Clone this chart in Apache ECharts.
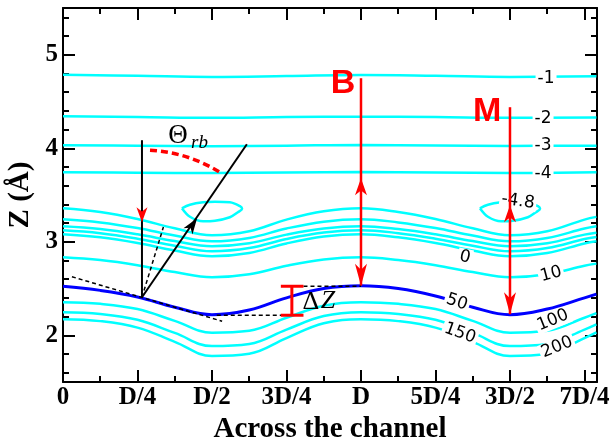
<!DOCTYPE html>
<html><head><meta charset="utf-8">
<script src="https://cdn.jsdelivr.net/npm/echarts@6/dist/echarts.min.js"></script>
<style>html,body{margin:0;padding:0;background:#fff}#c{width:613px;height:437px}</style>
</head><body><div id="c"></div>
<script>
// ---------- data ----------
const xTickVals = [0, 0.25, 0.5, 0.75, 1, 1.25, 1.5, 1.75];
const xTickLabels = ['0', 'D/4', 'D/2', '3D/4', 'D', '5D/4', '3D/2', '7D/4'];
const xMinorVals = [0.125, 0.375, 0.625, 0.875, 1.125, 1.375, 1.625];
const yTickVals = [2, 3, 4, 5];
const yMinorVals = [1.6, 1.8, 2.2, 2.4, 2.6, 2.8, 3.2, 3.4, 3.6, 3.8, 4.2, 4.4, 4.6, 4.8, 5.2, 5.4];

// flat contours (far from surface)
const xFlat = [0, 0.25, 0.5, 0.75, 1, 1.25, 1.5, 1.79];
const zFlatM1 = [4.786, 4.775, 4.763, 4.772, 4.783, 4.775, 4.763, 4.770];
const zFlatM2 = [4.342, 4.335, 4.325, 4.333, 4.338, 4.333, 4.325, 4.330];
const zFlatM3 = [4.032, 4.028, 4.022, 4.028, 4.035, 4.030, 4.025, 4.028];
const zFlatM4 = [3.742, 3.739, 3.735, 3.740, 3.745, 3.741, 3.735, 3.742];

// wavy contours
const xWave = [0, 0.125, 0.25, 0.375, 0.5, 0.625, 0.75, 0.875, 1, 1.125, 1.25, 1.375, 1.5, 1.625, 1.75, 1.79];
const zWaveM4 = [3.358, 3.318, 3.243, 3.144, 3.070, 3.112, 3.237, 3.326, 3.358, 3.318, 3.243, 3.144, 3.070, 3.112, 3.237, 3.266];
const zWaveM3 = [3.241, 3.207, 3.147, 3.066, 3.005, 3.041, 3.142, 3.215, 3.241, 3.207, 3.147, 3.066, 3.005, 3.041, 3.142, 3.166];
const zWaveM2 = [3.166, 3.136, 3.080, 3.007, 2.952, 2.984, 3.076, 3.142, 3.166, 3.136, 3.080, 3.007, 2.952, 2.984, 3.076, 3.097];
const zWaveM1 = [3.123, 3.092, 3.033, 2.957, 2.898, 2.932, 3.029, 3.098, 3.123, 3.092, 3.033, 2.957, 2.898, 2.932, 3.029, 3.051];
const zWave0 = [3.080, 3.047, 2.986, 2.906, 2.845, 2.880, 2.982, 3.055, 3.080, 3.047, 2.986, 2.906, 2.845, 2.880, 2.982, 3.005];
const zWave10 = [2.834, 2.804, 2.749, 2.676, 2.620, 2.652, 2.744, 2.811, 2.834, 2.804, 2.749, 2.676, 2.620, 2.652, 2.744, 2.766];
const zWave50 = [2.524, 2.480, 2.410, 2.300, 2.220, 2.270, 2.400, 2.500, 2.530, 2.500, 2.420, 2.300, 2.220, 2.280, 2.400, 2.440];
const zWave100 = [2.353, 2.336, 2.280, 2.154, 2.028, 2.048, 2.187, 2.316, 2.353, 2.336, 2.280, 2.154, 2.028, 2.048, 2.187, 2.236];
const zWave150 = [2.246, 2.228, 2.165, 2.025, 1.884, 1.907, 2.061, 2.205, 2.246, 2.228, 2.165, 2.025, 1.884, 1.907, 2.061, 2.117];
const zWave200 = [2.171, 2.151, 2.082, 1.930, 1.778, 1.802, 1.970, 2.128, 2.171, 2.151, 2.082, 1.930, 1.778, 1.802, 1.970, 2.031];

// closed -4.8 contours
const xLoopA = [0.399, 0.426, 0.470, 0.510, 0.560, 0.594, 0.601, 0.587, 0.560, 0.510, 0.470, 0.426, 0.399];
const zLoopA = [3.358, 3.396, 3.422, 3.428, 3.422, 3.380, 3.353, 3.316, 3.262, 3.225, 3.219, 3.267, 3.358];
const xLoopB = [1.399, 1.426, 1.470, 1.510, 1.560, 1.594, 1.601, 1.587, 1.560, 1.510, 1.470, 1.426, 1.399];
const zLoopB = [3.358, 3.396, 3.422, 3.428, 3.422, 3.380, 3.353, 3.316, 3.262, 3.225, 3.219, 3.267, 3.358];

// contour labels: [text, x, z, rotation(deg)]
const contourLabels = [
  ['-1', 1.621, 4.749, 0], ['-2', 1.611, 4.321, 0], ['-3', 1.611, 4.032, 0], ['-4', 1.611, 3.733, 0],
  ['-4.8', 1.527, 3.433, -8], ['0', 1.349, 2.834, -12], ['10', 1.638, 2.652, 15], ['50', 1.322, 2.353, -18],
  ['100', 1.644, 2.160, 22], ['150', 1.332, 2.021, -20], ['200', 1.658, 1.872, 22]
];

// ---------- chart ----------
const chart = echarts.init(document.getElementById('c'), null, {renderer: 'canvas'});
const CYAN = '#00ffff', BLUE = '#0000ff', RED = '#ff0000';
function pairs(xa, za) { return xa.map((x, i) => [x, za[i]]); }
function cline(xa, za, color, w, sm) {
  return {type: 'line', data: pairs(xa, za), showSymbol: false, smooth: sm, silent: true,
    lineStyle: {color: color, width: w}, xAxisIndex: 0, yAxisIndex: 0, z: 2, animation: false};
}
const XMAX = 1.792, YMIN = 1.5, YMAX = 5.5;
const tickFont = {fontFamily: 'Liberation Serif', fontWeight: 'bold', fontSize: 25, color: '#000'};
function xAx(pos, vals, len, line, labels) {
  return {type: 'value', position: pos, min: 0, max: XMAX, splitLine: {show: false},
    axisLine: {show: line, onZero: false, lineStyle: {color: '#000', width: 2}},
    axisTick: {show: true, inside: true, length: len, lineStyle: {color: '#000', width: 2}, customValues: vals},
    axisLabel: labels ? Object.assign({show: true, margin: 3, customValues: vals,
      formatter: v => { const i = xTickVals.findIndex(t => Math.abs(t - v) < 1e-6); return i >= 0 ? xTickLabels[i] : ''; }}, tickFont) : {show: false},
    name: labels ? 'Across the channel' : '', nameLocation: 'middle', nameGap: 25,
    nameTextStyle: {fontFamily: 'Liberation Serif', fontWeight: 'bold', fontSize: 29, color: '#000'}};
}
function yAx(pos, vals, len, line, labels) {
  return {type: 'value', position: pos, min: YMIN, max: YMAX, splitLine: {show: false},
    axisLine: {show: line, onZero: false, lineStyle: {color: '#000', width: 2}},
    axisTick: {show: true, inside: true, length: len, lineStyle: {color: '#000', width: 2}, customValues: vals},
    axisLabel: labels ? Object.assign({show: true, margin: 5, customValues: vals, formatter: v => String(Math.round(v))}, tickFont) : {show: false},
    name: labels ? 'Z (Å)' : '', nameLocation: 'middle', nameGap: 26, nameRotate: 90,
    nameTextStyle: {fontFamily: 'Liberation Serif', fontWeight: 'bold', fontSize: 29, color: '#000'}};
}
chart.setOption({
  animation: false,
  backgroundColor: '#fff',
  grid: {left: 63, right: 16, top: 8, bottom: 55, containLabel: false, outerBoundsMode: 'none'},
  xAxis: [xAx('bottom', xTickVals, 12, true, true), xAx('bottom', xMinorVals, 6, false, false),
          xAx('top', xTickVals, 12, true, false), xAx('top', xMinorVals, 6, false, false)],
  yAxis: [yAx('left', yTickVals, 12, true, true), yAx('left', yMinorVals, 6, false, false),
          yAx('right', yTickVals, 12, true, false), yAx('right', yMinorVals, 6, false, false)],
  series: [
    cline(xFlat, zFlatM1, CYAN, 2.5, 0.4), cline(xFlat, zFlatM2, CYAN, 2.5, 0.4),
    cline(xFlat, zFlatM3, CYAN, 2.5, 0.4), cline(xFlat, zFlatM4, CYAN, 2.5, 0.4),
    cline(xWave, zWaveM4, CYAN, 2.5, 0.4), cline(xWave, zWaveM3, CYAN, 2.5, 0.4),
    cline(xWave, zWaveM2, CYAN, 2.5, 0.4), cline(xWave, zWaveM1, CYAN, 2.5, 0.4),
    cline(xWave, zWave0, CYAN, 2.5, 0.4), cline(xWave, zWave10, CYAN, 2.5, 0.4),
    cline(xWave, zWave100, CYAN, 2.5, 0.4), cline(xWave, zWave150, CYAN, 2.5, 0.4),
    cline(xWave, zWave200, CYAN, 2.5, 0.4),
    cline(xLoopA, zLoopA, CYAN, 2.5, 0.35), cline(xLoopB, zLoopB, CYAN, 2.5, 0.35),
    cline(xWave, zWave50, BLUE, 3, 0.4)
  ]
});

// ---------- annotations ----------
const P = (x, z) => chart.convertToPixel({gridIndex: 0}, [x, z]);
const G = [];
function seg(a, b, color, w, dash, z) {
  G.push({type: 'line', z: z || 50, silent: true, shape: {x1: a[0], y1: a[1], x2: b[0], y2: b[1]},
    style: {stroke: color, lineWidth: w, lineDash: dash || null}});
}
function head(tip, from, len, w, color) {
  const dx = tip[0] - from[0], dy = tip[1] - from[1], L = Math.hypot(dx, dy), ux = dx / L, uy = dy / L;
  const bx = tip[0] - ux * len, by = tip[1] - uy * len, nx = -uy, ny = ux;
  const nb = [tip[0] - ux * len * 0.72, tip[1] - uy * len * 0.72];
  G.push({type: 'polygon', z: 60, silent: true, shape: {points: [tip, [bx + nx * w / 2, by + ny * w / 2], nb, [bx - nx * w / 2, by - ny * w / 2]]},
    style: {fill: color}});
}
function txt(s, p, font, color, rot, bg, align) {
  G.push({type: 'text', z: 40, silent: true, x: p[0], y: p[1], rotation: (rot || 0) * Math.PI / 180,
    style: {text: s, font: font, fill: color, align: align || 'center', verticalAlign: 'middle',
      textAlign: align || 'center', textVerticalAlign: 'middle',
      backgroundColor: bg || null, padding: bg ? [0, 2] : 0}});
}
contourLabels.forEach(l => txt(l[0], P(l[1], l[2]), '17px "DejaVu Sans"', '#000', l[3], '#fff'));

const pivot = P(0.265, 2.406);
seg(P(0.030, 2.626), P(0.534, 2.150), '#000', 1.5, [4, 3]);
seg(pivot, P(0.337, 3.158), '#000', 1.5, [4, 3]);
seg(P(0.265, 4.086), pivot, '#000', 2);
head(P(0.265, 3.209), P(0.265, 4.086), 15, 11, RED);
const outEnd = P(0.617, 4.043);
seg(pivot, outEnd, '#000', 2);
head(P(0.450, 3.251), pivot, 16, 11, '#000');
const aS = P(0.292, 3.979), aE = P(0.527, 3.743);
const r = Math.hypot(aS[0] - pivot[0], aS[1] - pivot[1]);
G.push({type: 'arc', z: 55, silent: true, shape: {cx: pivot[0], cy: pivot[1], r: r,
  startAngle: Math.atan2(aS[1] - pivot[1], aS[0] - pivot[0]), endAngle: Math.atan2(aE[1] - pivot[1], aE[0] - pivot[0]), clockwise: true},
  style: {stroke: RED, lineWidth: 3.5, lineDash: [7, 4], fill: null}});
txt('Θ', P(0.386, 4.128), '27px "Liberation Serif"', '#000', 0, null);
txt('rb', P(0.458, 4.059), 'italic 19px "Liberation Serif"', '#000', 0, null);

const bTop = P(1.0, 4.749), bBot = P(1.0, 2.530);
seg(bTop, bBot, RED, 2.5);
head(bBot, bTop, 22, 12, RED);
head(P(1.0, 3.679), bBot, 17, 12, RED);
txt('B', P(0.940, 4.695), 'bold 34px "Liberation Sans"', RED, 0, null);
const mTop = P(1.5, 4.439), mBot = P(1.5, 2.225);
seg(mTop, mBot, RED, 2.5);
head(mBot, mTop, 22, 12, RED);
head(P(1.5, 3.390), mBot, 17, 12, RED);
txt('M', P(1.423, 4.396), 'bold 34px "Liberation Sans"', RED, 0, null);

seg(P(0.807, 2.524), P(1.0, 2.524), '#000', 1.5, [4, 3]);
seg(P(0.516, 2.214), P(0.734, 2.214), '#000', 1.5, [4, 3]);
seg(P(0.768, 2.524), P(0.768, 2.214), RED, 3);
seg(P(0.731, 2.524), P(0.807, 2.524), RED, 3);
seg(P(0.731, 2.214), P(0.807, 2.214), RED, 3);
txt('Δ', P(0.832, 2.353), '26px "Liberation Serif"', '#000', 0, null);
txt('Z', P(0.889, 2.364), 'italic 26px "Liberation Serif"', '#000', 0, null);

chart.setOption({graphic: {elements: G}});
</script></body></html>
